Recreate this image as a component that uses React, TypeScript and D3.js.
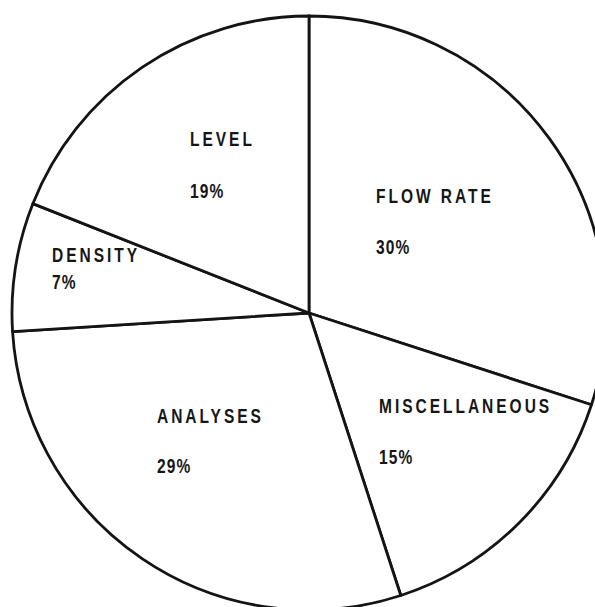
import React, { useEffect, useRef } from 'react';
import * as d3 from 'd3';

// shares, clockwise from 12 o'clock
const categories = ['FLOW RATE', 'MISCELLANEOUS', 'ANALYSES', 'DENSITY', 'LEVEL'];
const shares = [30, 15, 29, 7, 19];
const shareLabels = ['30%', '15%', '29%', '7%', '19%'];

// where the hand-lettered labels sit, relative to the pie centre
const labelOffsets = [
  [67, -110],
  [70, 100],
  [-152, 110],
  [-257, -51],
  [-119, -167],
];
const pctGap = [51, 51, 50, 27, 52];

const W = 595;
const H = 607;
const SQUEEZE = 0.74; // the lettering is a condensed face

const App = () => {
  const ref = useRef<SVGSVGElement>(null);

  useEffect(() => {
    const svg = d3.select(ref.current);
    svg.selectAll('*').remove();

    const cx = 309;
    const cy = 313;
    const r = 297;

    svg.append('rect').attr('width', W).attr('height', H).attr('fill', '#fff');

    const g = svg.append('g').attr('transform', `translate(${cx},${cy})`);

    const pie = d3.pie<number>().sort(null).value(d => d);
    const arcs = pie(shares);
    const arc = d3.arc<d3.PieArcDatum<number>>().innerRadius(0).outerRadius(r);

    g.selectAll('path')
      .data(arcs)
      .enter()
      .append('path')
      .attr('d', arc)
      .attr('fill', '#fff')
      .attr('stroke', '#141414')
      .attr('stroke-width', 2.8)
      .attr('stroke-linejoin', 'round');

    const font = "'Liberation Sans', Arial, sans-serif";

    const labels = g.selectAll('g.lbl')
      .data(arcs)
      .enter()
      .append('g')
      .attr('class', 'lbl')
      .attr('transform', (d, i) =>
        `translate(${labelOffsets[i][0]},${labelOffsets[i][1]}) scale(${SQUEEZE},1)`);

    labels.append('text')
      .attr('font-family', font)
      .attr('font-weight', 'bold')
      .attr('font-size', 21)
      .attr('letter-spacing', 4)
      .attr('fill', '#161616')
      .text((d, i) => categories[i]);

    labels.append('text')
      .attr('y', (d, i) => pctGap[i])
      .attr('font-family', font)
      .attr('font-weight', 'bold')
      .attr('font-size', 21)
      .attr('letter-spacing', 1.5)
      .attr('fill', '#161616')
      .text((d, i) => shareLabels[i]);
  }, []);

  return (
    <svg
      ref={ref}
      width={W}
      height={H}
      style={{ position: 'absolute', left: 0, top: 0, display: 'block' }}
    />
  );
};

export default App;
